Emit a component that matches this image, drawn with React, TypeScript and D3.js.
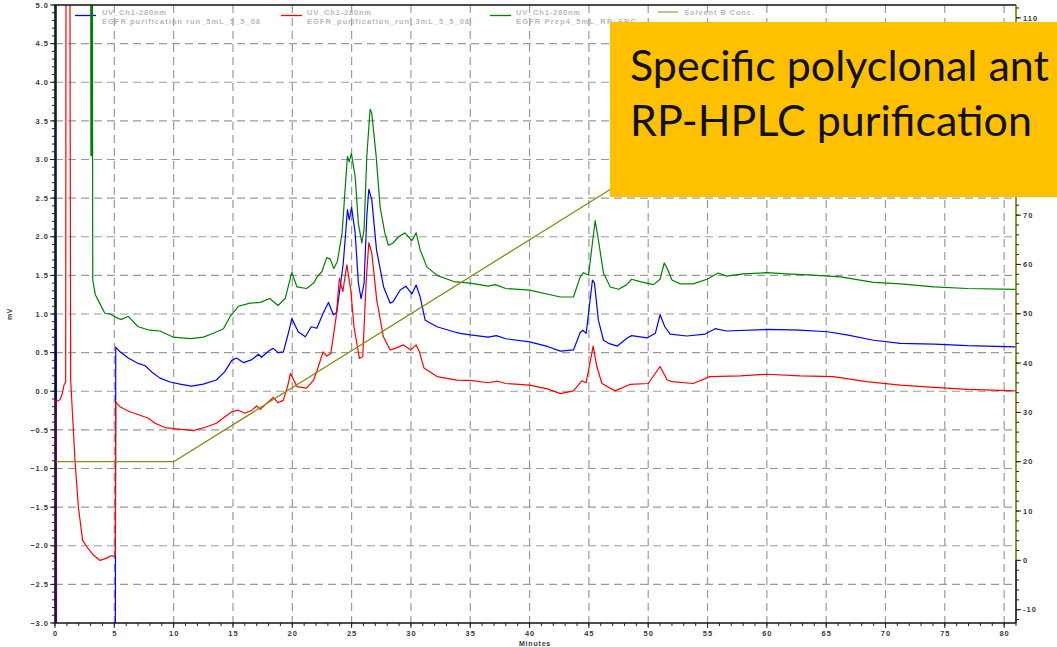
import React from 'react';
import * as d3 from 'd3';

const W = 1057;
const H = 647;

// ---- tick values ----
const xTicks = [0, 5, 10, 15, 20, 25, 30, 35, 40, 45, 50, 55, 60, 65, 70, 75, 80];
const yTicks = [-3.0, -2.5, -2.0, -1.5, -1.0, -0.5, 0.0, 0.5, 1.0, 1.5, 2.0, 2.5, 3.0, 3.5, 4.0, 4.5, 5.0];
const y2Ticks = [-10, 0, 10, 20, 30, 40, 50, 60, 70, 80, 90, 100, 110];

// ---- legend ----
const seriesNames = [
  'EGFR purification run_5mL_5_5_08',
  'EGFR_purification_run_3mL_5_5_08',
  'EGFR Prep4_5mL_RP_FRC',
];
const channelName = 'UV_Ch1-280nm';
const solventName = 'Solvent B Conc.';

// ---- data: [minutes, mV] ----
const blueData: [number, number][] = [
  [0, -0.1], [0.05, -0.1], [0.07, 6], [0.1, 6], [0.13, -4], [5.08, -4], [5.12, 0.57],
  [5.48, 0.51], [6.18, 0.43], [7.02, 0.36], [7.6, 0.33], [8.15, 0.25], [8.85, 0.17], [9.7, 0.12],
  [10.54, 0.093], [11.5, 0.067], [12.5, 0.093], [13.6, 0.145], [14.3, 0.25], [14.9, 0.4], [15.3, 0.43],
  [15.9, 0.37], [16.6, 0.41], [17.15, 0.48], [17.4, 0.44], [18.1, 0.53], [18.4, 0.555], [18.8, 0.5],
  [19.25, 0.51], [19.7, 0.77], [19.96, 0.94], [20.5, 0.77], [21.1, 0.705], [21.6, 0.835], [22.07, 0.815],
  [22.6, 1.01], [23.05, 1.15], [23.47, 0.99], [23.75, 1.02], [24.3, 1.66], [24.65, 2.35], [24.8, 2.22],
  [25.0, 2.38], [25.3, 2.05], [25.57, 1.4], [25.8, 1.2], [26.05, 1.4], [26.28, 2.26], [26.45, 2.615],
  [26.7, 2.48], [27.1, 1.83], [27.7, 1.35], [28.25, 1.14], [28.5, 1.16], [29.1, 1.31], [29.57, 1.36],
  [30.08, 1.26], [30.44, 1.375], [30.78, 1.22], [31.2, 0.92], [32.2, 0.835], [33.6, 0.77], [34.15, 0.75],
  [35, 0.73], [36.5, 0.7], [37.2, 0.72], [38, 0.68], [40, 0.64], [41.5, 0.58], [42.6, 0.52], [43.7, 0.535],
  [44.27, 0.76], [44.5, 0.79], [44.77, 0.75], [45.3, 1.44], [45.47, 1.4], [45.8, 0.92], [46.23, 0.66],
  [46.65, 0.62], [47.4, 0.585], [48.2, 0.685], [48.6, 0.72], [49.9, 0.69], [50.6, 0.75], [51.0, 0.99],
  [51.4, 0.835], [51.85, 0.74], [53.26, 0.715], [54.8, 0.74], [55.65, 0.81], [56.6, 0.78], [60, 0.8],
  [62.8, 0.79], [65.1, 0.77], [66.75, 0.73], [69, 0.66], [71.25, 0.62], [74.1, 0.61], [76.9, 0.59], [81, 0.575],
];

const redData: [number, number][] = [
  [0, -4], [0.05, -4], [0.07, -0.14], [0.42, -0.11], [0.62, -0.03], [0.76, 0.08], [0.9, 0.12], [0.93, 6],
  [1.25, 6], [1.32, 0.145], [1.69, -0.91], [1.97, -1.5], [2.33, -1.93], [2.67, -2.01], [3.23, -2.12],
  [3.8, -2.19], [4.36, -2.16], [4.7, -2.13], [5.0, -2.135], [5.08, -2.13], [5.12, -0.14], [5.48, -0.2],
  [6.04, -0.245], [6.32, -0.265], [7.17, -0.31], [7.87, -0.35], [8.43, -0.415], [9.27, -0.47], [10.4, -0.49],
  [11.1, -0.5], [11.66, -0.51], [12.8, -0.46], [13.6, -0.415], [14.33, -0.33], [14.9, -0.265], [15.46, -0.245],
  [16.0, -0.285], [16.6, -0.245], [17.0, -0.19], [17.3, -0.235], [18.0, -0.135], [18.4, -0.08], [18.8, -0.15],
  [19.25, -0.115], [19.6, 0.06], [19.85, 0.23], [20.4, 0.06], [21.2, 0.04], [21.8, 0.145], [22.1, 0.275],
  [22.6, 0.51], [22.9, 0.455], [23.25, 0.49], [23.7, 0.965], [23.97, 1.46], [24.26, 1.29], [24.6, 1.635],
  [24.93, 1.31], [25.2, 0.835], [25.66, 0.425], [25.94, 0.45], [26.22, 1.4], [26.45, 1.925], [26.7, 1.79],
  [27.12, 1.18], [27.68, 0.705], [28.25, 0.535], [28.67, 0.555], [29.37, 0.6], [29.99, 0.535], [30.44, 0.6],
  [30.72, 0.51], [31.1, 0.3], [32.2, 0.19], [33.87, 0.145], [35, 0.14], [36.5, 0.11], [37.3, 0.13], [38, 0.1],
  [40, 0.08], [41.5, 0.03], [42.6, -0.03], [43.7, 0.005], [44.4, 0.135], [44.77, 0.11], [45.36, 0.585],
  [45.67, 0.32], [46.1, 0.1], [47.2, 0.005], [48.5, 0.09], [50.0, 0.1], [51.0, 0.32], [51.6, 0.145],
  [52.0, 0.125], [53.8, 0.1], [55.2, 0.19], [57.75, 0.2], [60, 0.22], [62.8, 0.2], [65.6, 0.19], [68.4, 0.125],
  [71.25, 0.08], [74.1, 0.05], [76.9, 0.025], [81, 0.005],
];

const greenData: [number, number][] = [
  [0, 1.0], [0.08, 1.0], [0.1, 6], [3.0, 6], [3.03, 3.05], [3.07, 3.05], [3.09, 6], [3.15, 6], [3.18, 1.44],
  [3.4, 1.25], [3.67, 1.17], [4.2, 1.01], [4.66, 1.0], [5.34, 0.94], [5.6, 0.93], [6.18, 0.97], [7.0, 0.835],
  [8.0, 0.79], [8.85, 0.78], [9.98, 0.7], [11.4, 0.68], [12.5, 0.7], [13.35, 0.75], [14.2, 0.81], [14.75, 0.965],
  [15.45, 1.1], [16.44, 1.14], [17.3, 1.15], [18.1, 1.2], [18.8, 1.11], [19.4, 1.2], [19.96, 1.535], [20.4, 1.35],
  [21.2, 1.33], [21.8, 1.4], [22.1, 1.48], [22.5, 1.55], [22.9, 1.73], [23.2, 1.71], [23.5, 1.59], [23.8, 1.68],
  [24.2, 2.05], [24.45, 2.61], [24.65, 3.04], [24.8, 2.97], [24.98, 3.08], [25.3, 2.78], [25.57, 2.17],
  [25.86, 1.92], [26.05, 2.09], [26.28, 3.04], [26.56, 3.65], [26.7, 3.6], [27.07, 3.04], [27.4, 2.39],
  [27.8, 2.05], [28.1, 1.89], [28.5, 1.92], [28.95, 2.0], [29.5, 2.05], [30.08, 1.95], [30.44, 2.05],
  [30.78, 1.83], [31.34, 1.61], [32.2, 1.5], [33.6, 1.42], [35, 1.4], [36.5, 1.36], [37.1, 1.38], [38, 1.33],
  [40, 1.31], [42.6, 1.22], [43.7, 1.22], [44.27, 1.48], [44.55, 1.535], [44.97, 1.505], [45.53, 2.21],
  [45.8, 1.96], [46.23, 1.53], [46.8, 1.35], [47.5, 1.32], [48.2, 1.38], [48.6, 1.45], [49.3, 1.42],
  [50.45, 1.38], [51.0, 1.45], [51.35, 1.66], [51.6, 1.59], [52.0, 1.44], [52.7, 1.39], [53.8, 1.39],
  [54.95, 1.45], [55.9, 1.53], [56.6, 1.49], [58, 1.52], [60, 1.535], [61.7, 1.52], [64.2, 1.5], [66.2, 1.48],
  [69, 1.41], [71.25, 1.39], [74.1, 1.35], [76.9, 1.33], [81, 1.32],
];

// [minutes, % B]
const solventData: [number, number][] = [[0, 20], [10, 20], [50, 80], [81, 80]];

const titleLines = ['Specific polyclonal ant', 'RP-HPLC purification'];

export default function App() {
  const left = 55;
  const right = 1016;
  const top = 5;
  const bottom = 623;

  const boxX = 610;
  const boxY = 22;
  const boxH = 175;

  const x = d3.scaleLinear().domain([0, 81]).range([left, right]);
  const y = d3.scaleLinear().domain([-3, 5]).range([bottom, top]);
  const y2 = d3.scaleLinear().domain([-12.7, 112.6]).range([bottom, top]);

  const line = d3.line<[number, number]>().x((d) => x(d[0])).y((d) => y(d[1]));
  const line2 = d3.line<[number, number]>().x((d) => x(d[0])).y((d) => y2(d[1]));

  const fmt1 = d3.format('.1f');
  const minorX = d3.range(0, 82, 1);
  const minorY = d3.range(-30, 51, 1).map((v) => v / 10);
  const minorY2 = d3.range(-12, 113, 2);

  // right-axis labels that are not covered by the callout box
  const visibleY2 = y2Ticks.filter((v) => {
    const py = y2(v);
    return py < boxY - 3 || py > boxY + boxH + 3;
  });

  const tickFont = {
    fontFamily: 'Liberation Sans, Arial, sans-serif',
    fontSize: 7.5,
    fontWeight: 700,
    fill: '#3a3a3a',
    letterSpacing: 1,
  } as const;
  const legendFont = {
    fontFamily: 'Liberation Sans, Arial, sans-serif',
    fontSize: 7.5,
    fontWeight: 700,
    fill: '#b8b8b8',
  } as const;

  const legendEntries = [
    { color: '#0000ff', x0: 75, tx: 102, name: seriesNames[0], w: 158 },
    { color: '#ff0000', x0: 281, tx: 307, name: seriesNames[1], w: 162 },
    { color: '#008000', x0: 490, tx: 516, name: seriesNames[2], w: 120 },
  ];

  return (
    <svg
      width={W}
      height={H}
      style={{ position: 'absolute', left: 0, top: 0, display: 'block', background: '#fff' }}
    >
      <defs>
        <clipPath id="plot">
          <rect x={left} y={top} width={right - left} height={bottom - top} />
        </clipPath>
      </defs>
      <rect x={0} y={0} width={W} height={H} fill="#fff" />

      {/* grid */}
      <g stroke="#9a9a9a" strokeWidth={1.2} strokeDasharray="8,5">
        {xTicks.filter((t) => t > 0).map((t) => (
          <line key={'gx' + t} x1={x(t)} x2={x(t)} y1={top} y2={bottom} />
        ))}
        {yTicks.filter((t) => t > -3 && t < 5).map((t) => (
          <line key={'gy' + t} x1={left} x2={right} y1={y(t)} y2={y(t)} />
        ))}
      </g>

      {/* legend */}
      {legendEntries.map((e) => (
        <g key={e.name}>
          <line x1={e.x0} x2={e.x0 + 21} y1={15.5} y2={15.5} stroke={e.color} strokeWidth={1.3} />
          <text x={e.tx} y={14.5} {...legendFont} textLength={64} lengthAdjust="spacing">
            {channelName}
          </text>
          <text x={e.tx} y={23.5} {...legendFont} textLength={e.w} lengthAdjust="spacing">
            {e.name}
          </text>
        </g>
      ))}
      <line x1={658} x2={678} y1={12} y2={12} stroke="#c2c28a" strokeWidth={2} />
      <text x={684} y={14.5} {...legendFont} textLength={70} lengthAdjust="spacing">
        {solventName}
      </text>

      {/* traces */}
      <g clipPath="url(#plot)" fill="none" strokeWidth={1.2} strokeLinejoin="round">
        <path d={line(blueData) || ''} stroke="#0000ff" />
        <path d={line(redData) || ''} stroke="#ff0000" />
        <path d={line(greenData) || ''} stroke="#008000" />
        <path d={line2(solventData) || ''} stroke="#8b8b10" strokeWidth={1.3} />
      </g>

      {/* frame */}
      <line x1={left} x2={right} y1={top} y2={top} stroke="#111" strokeWidth={1.5} />
      <line x1={left} x2={right} y1={bottom} y2={bottom} stroke="#111" strokeWidth={1.6} />
      <line x1={left} x2={left} y1={top} y2={bottom} stroke="#111" strokeWidth={1.6} />
      <line x1={right} x2={right} y1={top} y2={y2(0)} stroke="#7a7a00" strokeWidth={1.6} />
      <line x1={right} x2={right} y1={y2(0)} y2={bottom} stroke="#111" strokeWidth={1.6} />

      {/* axis ticks */}
      <g stroke="#222" strokeWidth={1}>
        {minorY.map((v) => (
          <line key={'my' + v} x1={left - 3} x2={left} y1={y(v)} y2={y(v)} />
        ))}
        {yTicks.map((v) => (
          <line key={'My' + v} x1={left - 5} x2={left} y1={y(v)} y2={y(v)} />
        ))}
        {minorX.map((v) => (
          <line key={'mx' + v} x1={x(v)} x2={x(v)} y1={bottom} y2={bottom + 3} />
        ))}
        {xTicks.map((v) => (
          <line key={'Mx' + v} x1={x(v)} x2={x(v)} y1={bottom} y2={bottom + 5} />
        ))}
        {minorY2.map((v) => (
          <line key={'m2' + v} x1={right} x2={right + 3} y1={y2(v)} y2={y2(v)} />
        ))}
        {y2Ticks.map((v) => (
          <line key={'M2' + v} x1={right} x2={right + 5} y1={y2(v)} y2={y2(v)} />
        ))}
      </g>

      {/* tick labels */}
      {yTicks.map((v) => (
        <text key={'ly' + v} x={49} y={y(v) + 2.7} textAnchor="end" {...tickFont}>
          {fmt1(v)}
        </text>
      ))}
      {xTicks.map((v) => (
        <text key={'lx' + v} x={x(v) + 0.5} y={636} textAnchor="middle" {...tickFont}>
          {String(v)}
        </text>
      ))}
      {visibleY2.map((v) => (
        <text key={'l2' + v} x={1023} y={y2(v) + 2.7} textAnchor="start" {...tickFont}>
          {String(v)}
        </text>
      ))}
      <text
        x={0}
        y={0}
        transform={`translate(12,${(top + bottom) / 2}) rotate(-90)`}
        textAnchor="middle"
        {...tickFont}
        fontSize={7}
        letterSpacing={0.5}
      >
        mV
      </text>
      <text x={535} y={646} textAnchor="middle" {...tickFont} fontSize={7} letterSpacing={0.8}>
        Minutes
      </text>

      {/* callout box */}
      <rect x={boxX} y={boxY} width={W - boxX} height={boxH} fill="#ffc000" />
      <text x={630} y={81} fontFamily="Lato, 'Open Sans', sans-serif" fontSize={43} fill="#111">
        {titleLines[0]}
      </text>
      <text x={630} y={136} fontFamily="Lato, 'Open Sans', sans-serif" fontSize={43} fill="#111">
        {titleLines[1]}
      </text>
    </svg>
  );
}
